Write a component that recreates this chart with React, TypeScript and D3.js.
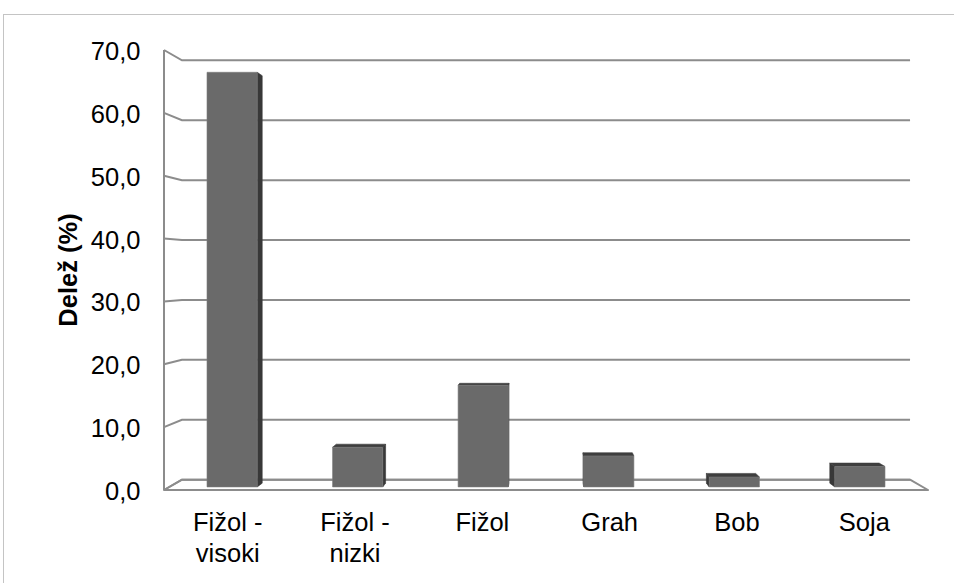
import React from "react";
import * as d3 from "d3";

// Share of legume crops (%)
const categories: string[][] = [
  ["Fižol -", "visoki"],
  ["Fižol -", "nizki"],
  ["Fižol"],
  ["Grah"],
  ["Bob"],
  ["Soja"],
];
const values: number[] = [66.9, 6.4, 16.4, 5.0, 1.6, 3.3];
const yTicks: number[] = [0, 10, 20, 30, 40, 50, 60, 70];
const yTitle = "Delež (%)";

const W = 954;
const H = 583;

// Perspective set-up: front plane coordinates are projected toward a vanishing point
const VX = 546;
const VY = 270;
const S_BACK = 0.953; // back wall depth
const S_BAR_FRONT = 0.986; // column front face depth
const S_BAR_BACK = 0.969; // column back face depth

const proj = (x: number, y: number, s: number): [number, number] => [
  VX + s * (x - VX),
  VY + s * (y - VY),
];

const pts = (arr: [number, number][]) => arr.map((p) => `${p[0]},${p[1]}`).join(" ");

export default function App() {
  const keys = categories.map((_, i) => String(i));
  const x = d3.scaleBand<string>().domain(keys).range([164, 928]).padding(0);
  const y = d3.scaleLinear().domain([0, 70]).range([490, 50]);
  const fmt = (v: number) => d3.format(".1f")(v).replace(".", ",");

  const gridColor = "#8c8c8c";
  const font = "'Liberation Sans', Arial, sans-serif";

  const x0 = x.range()[0];
  const x1 = x.range()[1];

  const bw = x.bandwidth() * 0.4;

  return (
    <svg
      width={W}
      height={H}
      style={{ position: "absolute", left: 0, top: 0, background: "#fff" }}
      fontFamily={font}
    >
      {/* chart frame */}
      <rect x={3.5} y={14.5} width={1000} height={1000} fill="none" stroke="#c4c4c4" strokeWidth={1} />

      {/* left wall front edge */}
      <line x1={x0} y1={y(70)} x2={x0} y2={y(0)} stroke={gridColor} strokeWidth={2} />

      {/* gridlines on side wall and back wall */}
      {yTicks.map((t) => {
        const a = proj(x0, y(t), 1);
        const b = proj(x0, y(t), S_BACK);
        const c = proj(x1, y(t), S_BACK);
        return (
          <polyline key={t} points={pts([a, b, c])} fill="none" stroke={gridColor} strokeWidth={2} />
        );
      })}

      {/* floor */}
      <polygon
        points={pts([
          proj(x0, y(0), 1),
          proj(x0, y(0), S_BACK),
          proj(x1, y(0), S_BACK),
          proj(x1, y(0), 1),
        ])}
        fill="none"
        stroke={gridColor}
        strokeWidth={2}
        strokeLinejoin="round"
      />

      {/* columns */}
      {values.map((v, i) => {
        const left = (x(String(i)) as number) + (x.bandwidth() - bw) / 2;
        const right = left + bw;
        const top = y(v);
        const bot = y(0);
        const fTL = proj(left, top, S_BAR_FRONT);
        const fTR = proj(right, top, S_BAR_FRONT);
        const fBR = proj(right, bot, S_BAR_FRONT);
        const fBL = proj(left, bot, S_BAR_FRONT);
        const bTL = proj(left, top, S_BAR_BACK);
        const bTR = proj(right, top, S_BAR_BACK);
        const bBR = proj(right, bot, S_BAR_BACK);
        const bBL = proj(left, bot, S_BAR_BACK);
        const faces: React.ReactNode[] = [];
        if (right < VX) {
          faces.push(<polygon key="side" points={pts([fTR, bTR, bBR, fBR])} fill="#383838" stroke="#383838" strokeWidth={0.6} />);
        } else if (left > VX) {
          faces.push(<polygon key="side" points={pts([fTL, bTL, bBL, fBL])} fill="#383838" stroke="#383838" strokeWidth={0.6} />);
        }
        if (top > VY) {
          faces.push(<polygon key="top" points={pts([fTL, bTL, bTR, fTR])} fill="#3e3e3e" stroke="#3e3e3e" strokeWidth={0.6} />);
        }
        faces.push(
          <polygon key="front" points={pts([fTL, fTR, fBR, fBL])} fill="#6a6a6a" stroke="#7a7a7a" strokeWidth={0.6} />
        );
        return <g key={i}>{faces}</g>;
      })}

      {/* y tick labels */}
      {yTicks.map((t) => (
        <text key={t} x={140.5} y={y(t) + 10} textAnchor="end" fontSize={25.5} fill="#000">
          {fmt(t)}
        </text>
      ))}

      {/* y title */}
      <text
        transform={`translate(77,270) rotate(-90)`}
        textAnchor="middle"
        fontSize={25.5}
        fontWeight="bold"
        fill="#000"
      >
        {yTitle}
      </text>

      {/* category labels */}
      {categories.map((lines, i) => {
        const cx = (x(String(i)) as number) + x.bandwidth() / 2;
        return (
          <text key={i} x={cx} y={531} textAnchor="middle" fontSize={25.5} fill="#000">
            {lines.map((ln, j) => (
              <tspan key={j} x={cx} dy={j === 0 ? 0 : 31}>
                {ln}
              </tspan>
            ))}
          </text>
        );
      })}
    </svg>
  );
}
